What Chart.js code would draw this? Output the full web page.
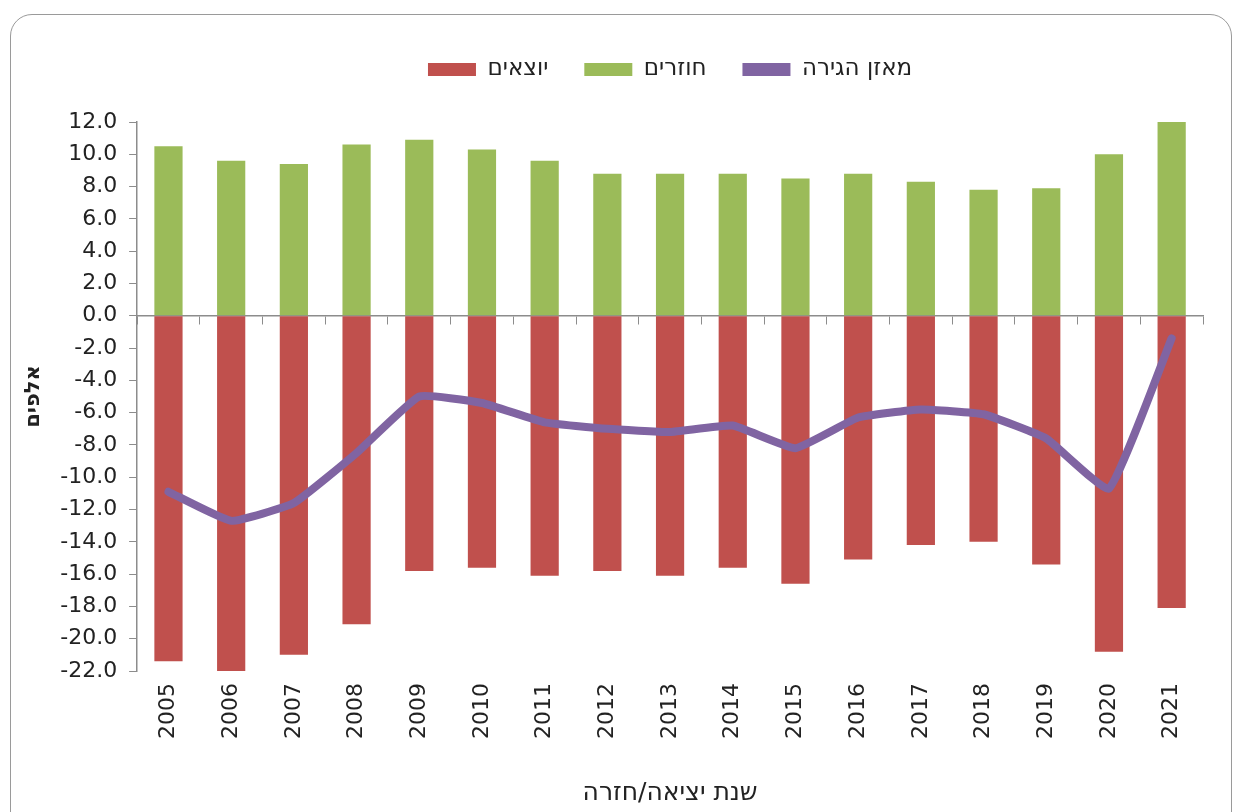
<!DOCTYPE html>
<html>
<head>
<meta charset="utf-8">
<script src="https://cdn.jsdelivr.net/npm/chart.js@4"></script>
<style>
  html, body { margin: 0; padding: 0; background: #fff; }
  #card {
    position: absolute; left: 10px; top: 14px; width: 1222px; height: 820px;
    border: 1px solid #9a9a9a; border-radius: 22px; box-sizing: border-box;
  }
  #wrap { position: absolute; left: 0; top: 0; width: 1243px; height: 812px; }
</style>
</head>
<body>
<div id="card"></div>
<div id="wrap"><canvas id="c" width="1243" height="812"></canvas></div>
<script>
const years = ['2005', '2006', '2007', '2008', '2009', '2010', '2011', '2012', '2013',
  '2014', '2015', '2016', '2017', '2018', '2019', '2020', '2021'];

// thousands
const returning = [10.5, 9.6, 9.4, 10.6, 10.9, 10.3, 9.6, 8.8, 8.8, 8.8, 8.5, 8.8, 8.3, 7.8, 7.9, 10.0, 12.0];
const leaving = [-21.4, -22.0, -21.0, -19.1, -15.8, -15.6, -16.1, -15.8, -16.1, -15.6, -16.6, -15.1, -14.2, -14.0, -15.4, -20.8, -18.1];
const balance = [-10.9, -12.7, -11.6, -8.5, -5.0, -5.4, -6.6, -7.0, -7.2, -6.8, -8.2, -6.3, -5.8, -6.1, -7.6, -10.7, -1.4];

const FONT = '"DejaVu Sans", "Liberation Sans", Arial, sans-serif';
const axisGrey = '#8c8c8c';

// extra space between the legend and the plot
const legendGap = {
    id: 'legendGap',
    beforeInit(chart) {
        const fit = chart.legend.fit;
        chart.legend.fit = function () {
            fit.bind(chart.legend)();
            this.height += 31;
        };
    }
};

new Chart(document.getElementById('c'), {
    type: 'bar',
    data: {
        labels: years,
        datasets: [
            {
                type: 'line',
                label: 'מאזן הגירה',
                data: balance,
                borderColor: '#8064A2',
                backgroundColor: '#8064A2',
                borderWidth: 8,
                pointRadius: 0,
                tension: 0.12,
                borderCapStyle: 'round',
                borderJoinStyle: 'round',
                xAxisID: 'x'
            },
            {
                label: 'חוזרים',
                data: returning,
                backgroundColor: '#9BBB59',
                xAxisID: 'x'
            },
            {
                label: 'יוצאים',
                data: leaving,
                backgroundColor: '#C0504D',
                xAxisID: 'x'
            }
        ]
    },
    options: {
        responsive: false,
        animation: false,
        layout: {
            padding: { left: 21, right: 40, top: 22, bottom: 4 }
        },
        datasets: {
            bar: { categoryPercentage: 0.45, barPercentage: 1 }
        },
        scales: {
            x: {
                stacked: true,
                grid: { display: false },
                border: { display: false },
                ticks: {
                    color: '#222',
                    font: { family: FONT, size: 22 },
                    maxRotation: 90,
                    minRotation: 90,
                    padding: 4
                },
                title: {
                    display: true,
                    text: 'שנת יציאה/חזרה',
                    color: '#222',
                    font: { family: FONT, size: 25 },
                    padding: { top: 35, bottom: 0 }
                }
            },
            // zero line with category tick marks
            x0: {
                type: 'category',
                labels: years,
                position: { y: 0 },
                offset: true,
                grid: {
                    offset: true,
                    drawOnChartArea: false,
                    drawTicks: true,
                    tickLength: 8,
                    color: axisGrey
                },
                border: { display: true, color: axisGrey, width: 1.5 },
                ticks: { display: false }
            },
            y: {
                min: -22,
                max: 12,
                grid: {
                    drawOnChartArea: false,
                    drawTicks: true,
                    tickLength: 8,
                    color: axisGrey
                },
                border: { color: axisGrey, width: 1.5 },
                ticks: {
                    stepSize: 2,
                    color: '#222',
                    padding: 12,
                    font: { family: FONT, size: 22 },
                    callback: v => v.toFixed(1)
                },
                title: {
                    display: true,
                    text: 'אלפים',
                    color: '#222',
                    font: { family: FONT, size: 21, weight: 'bold' },
                    padding: { top: 0, bottom: 2 }
                }
            }
        },
        plugins: {
            legend: {
                reverse: true,
                fullSize: false,
                labels: {
                    boxWidth: 48,
                    boxHeight: 13,
                    padding: 36,
                    color: '#222',
                    font: { family: FONT, size: 23 },
                    generateLabels: chart => {
                        const items = Chart.defaults.plugins.legend.labels.generateLabels(chart);
                        items.forEach(it => { it.lineWidth = 0; });
                        return items;
                    }
                }
            },
            tooltip: { enabled: false }
        }
    },
    plugins: [legendGap]
});
</script>
</body>
</html>
